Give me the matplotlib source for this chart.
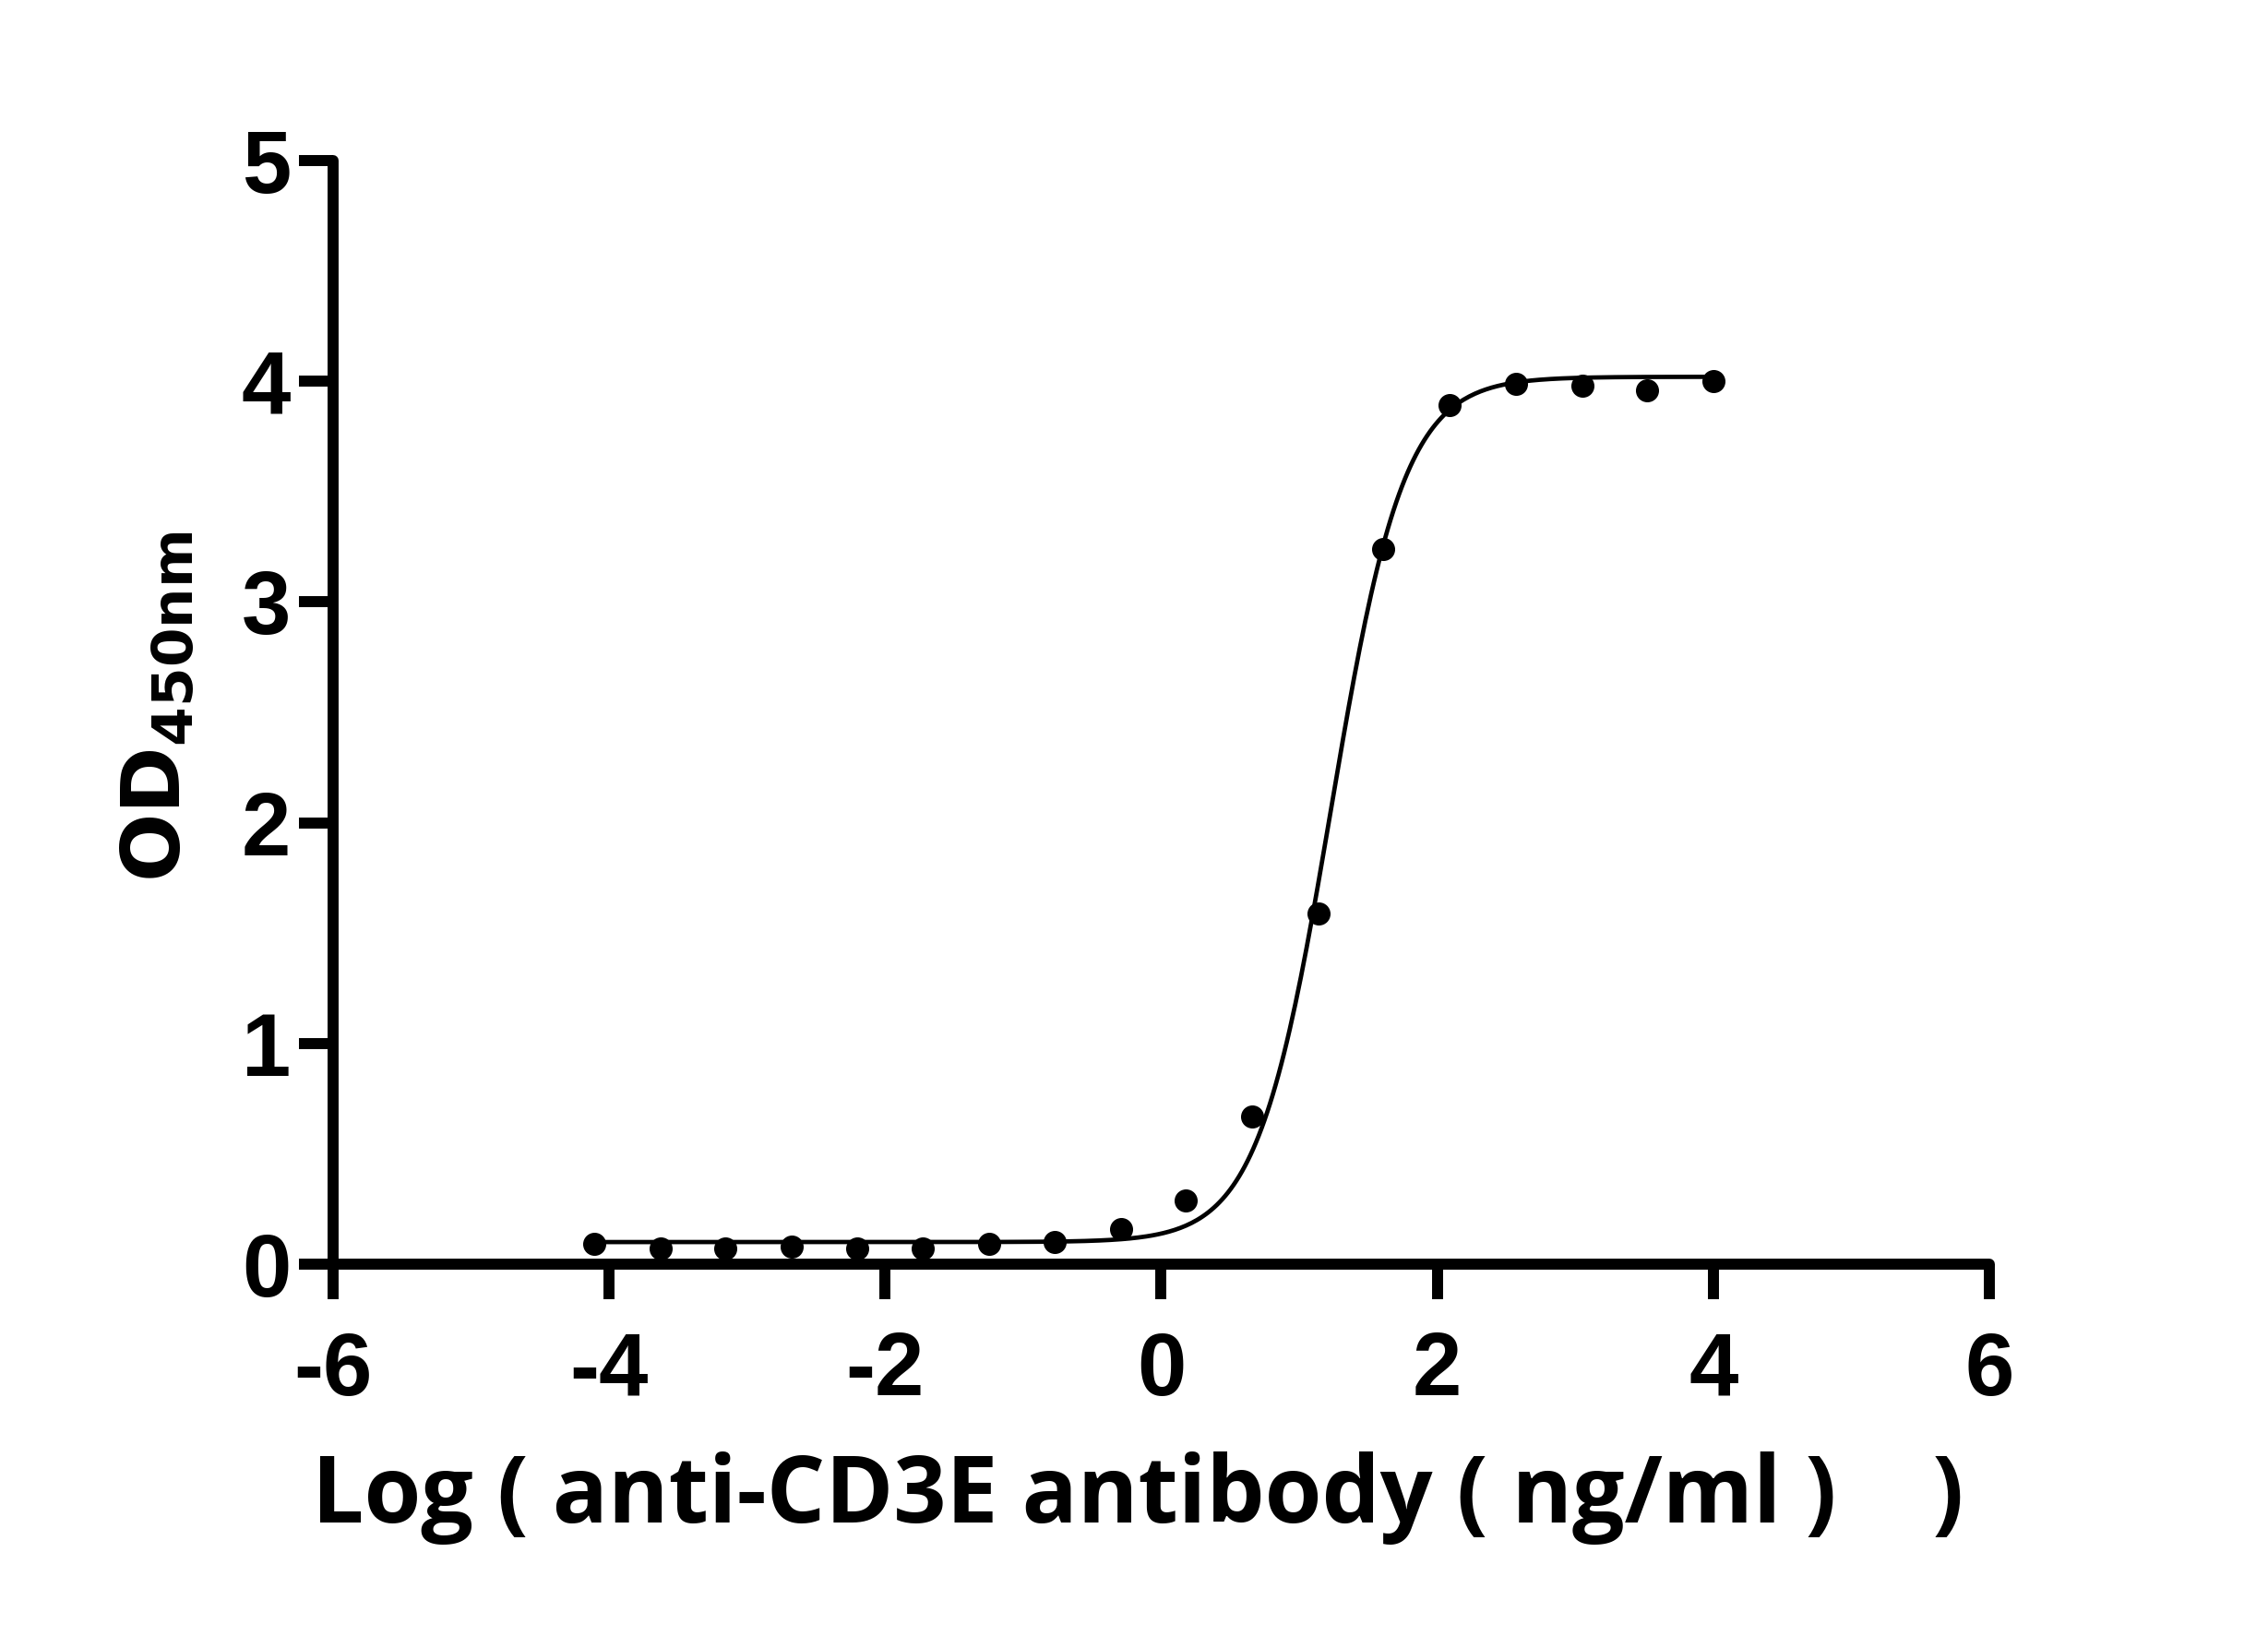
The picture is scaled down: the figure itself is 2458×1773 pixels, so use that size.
import numpy as np
import matplotlib
matplotlib.use("Agg")
import matplotlib.pyplot as plt

# measured points (log10 concentration, OD450)
log_conc = [-4.11, -3.63, -3.16, -2.68, -2.20, -1.73, -1.25, -0.77, -0.29,
            0.18, 0.66, 1.14, 1.61, 2.09, 2.57, 3.05, 3.52, 4.00]
od450 = [0.09, 0.07, 0.07, 0.08, 0.07, 0.07, 0.09, 0.10, 0.16,
         0.29, 0.67, 1.59, 3.24, 3.89, 3.99, 3.98, 3.96, 4.00]

# 4PL fit parameters
bottom = 0.10
top = 4.02
log_ec50 = 1.23
hill = 1.63

x_ticks = [-6, -4, -2, 0, 2, 4, 6]
y_ticks = [0, 1, 2, 3, 4, 5]

plt.rcParams['font.family'] = ['Liberation Sans', 'DejaVu Sans']
plt.rcParams['mathtext.fontset'] = 'dejavusans'

fig = plt.figure(figsize=(24.58, 17.73), dpi=100)
ax = fig.add_axes([0.1469, 0.2273, 0.7302, 0.6746])

xs = np.linspace(min(log_conc), max(log_conc), 400)
ys = bottom + (top - bottom) / (1 + 10 ** ((log_ec50 - xs) * hill))
ax.plot(xs, ys, color='black', lw=3.4, zorder=2)
ax.plot(log_conc, od450, 'o', color='black', ms=17, zorder=3)

ax.set_xlim(-6, 6)
ax.set_ylim(0, 5)
ax.set_xticks(x_ticks)
ax.set_yticks(y_ticks)
ax.set_xticklabels([str(t) for t in x_ticks])
ax.set_yticklabels([str(t) for t in y_ticks])

for s in ['top', 'right']:
    ax.spines[s].set_visible(False)
for s in ['left', 'bottom']:
    ax.spines[s].set_linewidth(8.6)
    ax.spines[s].set_capstyle('round')
ax.tick_params(width=8.6, length=27, labelsize=69)
ax.tick_params(axis='x', pad=25)
ax.tick_params(axis='y', pad=6)
for lab in ax.get_xticklabels() + ax.get_yticklabels():
    lab.set_fontweight('bold')
for ln in ax.xaxis.get_ticklines() + ax.yaxis.get_ticklines():
    ln.set_solid_capstyle('round')

ax.set_xlabel('Log ( anti-CD3E antibody ( ng/ml )    )', fontsize=72,
              fontweight='bold', family=['Open Sans', 'DejaVu Sans'])
ax.xaxis.set_label_coords(0.486, -0.170)
ax.set_ylabel(r'$\mathbf{OD}_{\mathbf{450nm}}$', fontsize=63)
ax.yaxis.set_label_coords(-0.082, 0.505)

fig.savefig('out.png', dpi=100)
